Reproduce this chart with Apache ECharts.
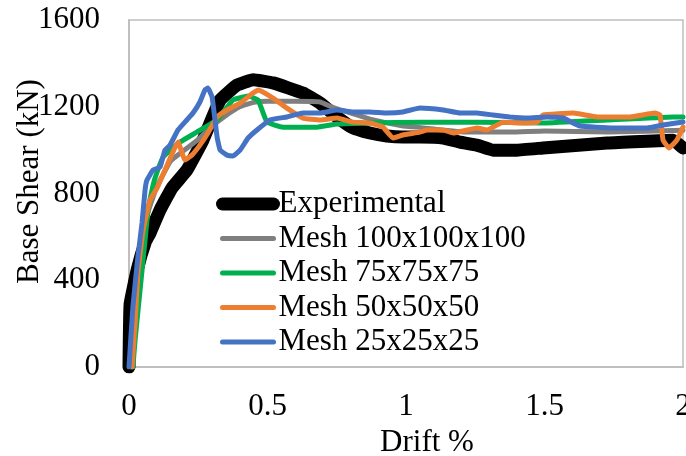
<!DOCTYPE html>
<html>
<head>
<meta charset="utf-8">
<title>Base Shear vs Drift</title>
<script src="https://cdn.jsdelivr.net/npm/echarts@6/dist/echarts.min.js"></script>
<style>
  html, body { margin: 0; padding: 0; background: #fff; }
  #box { width: 686px; height: 456px; }
</style>
</head>
<body>
<div id="box"></div>
<script>
// tick values
var xTicks = [0, 0.5, 1, 1.5, 2];
var yTicks = [0, 400, 800, 1200, 1600];

var seriesNames = ['Experimental', 'Mesh 100x100x100', 'Mesh 75x75x75', 'Mesh 50x50x50', 'Mesh 25x25x25'];

// [drift %, base shear kN]
var experimental = [
  [0, 0], [0.004, 290], [0.03, 450], [0.06, 580], [0.076, 618], [0.112, 724],
  [0.155, 825], [0.209, 908], [0.267, 1046], [0.329, 1231], [0.39, 1300],
  [0.448, 1325], [0.52, 1310], [0.628, 1263], [0.69, 1217], [0.751, 1153],
  [0.809, 1102], [0.87, 1079], [0.931, 1065], [0.989, 1060], [1.05, 1060],
  [1.134, 1056], [1.195, 1037], [1.256, 1023], [1.314, 1000], [1.40, 1000],
  [1.495, 1010], [1.726, 1033], [1.964, 1046], [2.0, 1010]
];
var mesh100 = [
  [0.01, 0], [0.02, 300], [0.04, 550], [0.07, 720], [0.1, 830], [0.15, 950],
  [0.2, 1000], [0.25, 1050], [0.3, 1110], [0.35, 1160], [0.4, 1200],
  [0.45, 1220], [0.5, 1225], [0.6, 1225], [0.69, 1222], [0.73, 1200],
  [0.81, 1167], [0.87, 1143], [0.99, 1111], [1.04, 1106], [1.1, 1097],
  [1.22, 1083], [1.38, 1083], [1.5, 1088], [1.73, 1083], [2.0, 1092]
];
var mesh75 = [
  [0.014, 0], [0.022, 124], [0.040, 355], [0.058, 585], [0.069, 724],
  [0.083, 816], [0.094, 871], [0.123, 968], [0.184, 1037], [0.245, 1083],
  [0.318, 1139], [0.375, 1231], [0.43, 1249], [0.466, 1231], [0.498, 1129],
  [0.556, 1106], [0.679, 1106], [0.751, 1120], [0.87, 1125], [1.05, 1129],
  [1.256, 1129], [1.495, 1125], [1.726, 1139], [1.964, 1153], [2.0, 1153]
];
var mesh50 = [
  [0.011, 0], [0.022, 203], [0.032, 433], [0.051, 632], [0.076, 770],
  [0.101, 825], [0.13, 908], [0.177, 1037], [0.202, 954], [0.227, 977],
  [0.256, 1023], [0.285, 1079], [0.318, 1153], [0.354, 1185], [0.401, 1217],
  [0.448, 1263], [0.466, 1277], [0.52, 1240], [0.57, 1194], [0.628, 1148],
  [0.69, 1139], [0.751, 1148], [0.809, 1129], [0.87, 1125], [0.917, 1106],
  [0.953, 1056], [0.989, 1070], [1.05, 1083], [1.076, 1093], [1.134, 1093],
  [1.17, 1079], [1.256, 1102], [1.292, 1093], [1.35, 1129], [1.412, 1125],
  [1.473, 1129], [1.495, 1162], [1.603, 1171], [1.69, 1153], [1.809, 1153],
  [1.899, 1171], [1.917, 1162], [1.928, 1046], [1.949, 1010], [1.978, 1046],
  [2.0, 1106]
];
var mesh25 = [
  [0, 0], [0.014, 277], [0.032, 507], [0.047, 664], [0.058, 816], [0.065, 862],
  [0.087, 908], [0.112, 922], [0.13, 1000], [0.148, 1023], [0.177, 1093],
  [0.209, 1139], [0.231, 1171], [0.256, 1222], [0.274, 1277], [0.285, 1286],
  [0.30, 1245], [0.318, 1060], [0.329, 1000], [0.354, 977], [0.375, 973],
  [0.401, 1000], [0.43, 1056], [0.462, 1093], [0.509, 1139], [0.57, 1153],
  [0.628, 1171], [0.69, 1171], [0.751, 1185], [0.809, 1176], [0.87, 1176],
  [0.931, 1171], [0.989, 1176], [1.05, 1194], [1.134, 1185], [1.195, 1171],
  [1.256, 1171], [1.314, 1162], [1.375, 1153], [1.437, 1148], [1.509, 1153],
  [1.567, 1148], [1.628, 1111], [1.747, 1102], [1.87, 1102], [1.928, 1116],
  [2.0, 1130]
];

var seriesData = [experimental, mesh100, mesh75, mesh50, mesh25];
var colors = ['#000000', '#7f7f7f', '#00b050', '#ed7d31', '#4472c4'];
var widths = [13, 5, 5, 5, 5];

var font = 'Liberation Serif';
var myChart = echarts.init(document.getElementById('box'), null, { renderer: 'canvas' });

var series = [];
for (var i = 0; i < seriesNames.length; i++) {
  series.push({
    name: seriesNames[i],
    type: 'line',
    data: seriesData[i],
    symbol: 'none',
    smooth: 0.1,
    lineStyle: { color: colors[i], width: widths[i], cap: 'round', join: 'round' },
    itemStyle: { color: colors[i] }
  });
}

var option = {
  animation: false,
  backgroundColor: '#ffffff',
  textStyle: { fontFamily: font },
  grid: {
    left: 129, top: 20, right: 3, bottom: 89,
    outerBoundsMode: 'none',
    containLabel: false,
    show: true, borderColor: '#bfbfbf', borderWidth: 1.5
  },
  legend: {
    orient: 'vertical',
    left: 216,
    top: 187,
    padding: 0,
    itemWidth: 51,
    itemHeight: 14,
    itemGap: 0.5,
    itemStyle: { opacity: 0 },
    textStyle: { fontFamily: font, fontSize: 31, color: '#000', lineHeight: 34 },
    data: seriesNames.map(function (n, i) {
      return { name: n, lineStyle: { width: widths[i], color: colors[i], cap: 'round' } };
    })
  },
  xAxis: {
    type: 'value',
    min: xTicks[0],
    max: xTicks[xTicks.length - 1],
    interval: 0.5,
    name: 'Drift %',
    nameLocation: 'middle',
    nameGap: 52,
    nameTextStyle: { fontFamily: font, fontSize: 31, color: '#000', padding: [0, 0, 0, 42] },
    axisLine: { show: true, lineStyle: { color: '#bfbfbf', width: 2 } },
    axisTick: { show: false },
    splitLine: { show: false },
    axisLabel: { fontFamily: font, fontSize: 31, color: '#000', margin: 24 }
  },
  yAxis: {
    type: 'value',
    min: yTicks[0],
    max: yTicks[yTicks.length - 1],
    interval: 400,
    name: 'Base Shear (kN)',
    nameLocation: 'middle',
    nameGap: 84,
    nameMoveOverlap: false,
    nameTextStyle: { fontFamily: font, fontSize: 31, color: '#000', padding: [0, 0, 0, 24] },
    axisLine: { show: true, lineStyle: { color: '#bfbfbf', width: 2 } },
    axisTick: { show: false },
    splitLine: { show: false },
    axisLabel: {
      fontFamily: font, fontSize: 31, color: '#000', margin: 29,
      formatter: function (v) { return String(v); }
    }
  },
  series: series
};

myChart.setOption(option);
</script>
</body>
</html>
